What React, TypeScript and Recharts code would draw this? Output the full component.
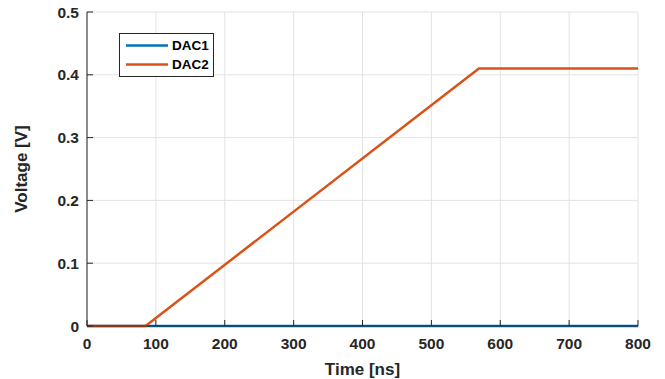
import React from "react";
import { LineChart, Line, XAxis, YAxis, CartesianGrid, Legend, Label } from "recharts";

const timeTicks = [0, 100, 200, 300, 400, 500, 600, 700, 800];
const voltTicks = [0, 0.1, 0.2, 0.3, 0.4, 0.5];

const dac1Time = [0, 800];
const dac1Volt = [0, 0];
const dac2Time = [0, 85, 569, 800];
const dac2Volt = [0, 0, 0.41, 0.41];

const dac1 = dac1Time.map((t, i) => ({ t, v: dac1Volt[i] }));
const dac2 = dac2Time.map((t, i) => ({ t, v: dac2Volt[i] }));

const FONT = "'Liberation Sans', Arial, Helvetica, sans-serif";
const AXIS = "#262626";
const BLUE = "#0072BD";
const ORANGE = "#D95319";

const fmtV = (v: number) => (v === 0 ? "0" : v.toFixed(1));

const BottomTick = (p: any) => (
  <g>
    <line x1={p.x} y1={p.y} x2={p.x} y2={p.y - 6} stroke={AXIS} strokeWidth={1} />
    <text x={p.x} y={p.y + 23} textAnchor="middle" fontFamily={FONT} fontWeight="bold" fontSize={15.5} fill={AXIS}>
      {p.payload.value}
    </text>
  </g>
);
const TopTick = (p: any) => (
  <line x1={p.x} y1={p.y} x2={p.x} y2={p.y + 6} stroke={AXIS} strokeWidth={1} />
);
const LeftTick = (p: any) => (
  <g>
    <line x1={p.x} y1={p.y} x2={p.x + 6} y2={p.y} stroke={AXIS} strokeWidth={1} />
    <text x={p.x - 8} y={p.y + 5.5} textAnchor="end" fontFamily={FONT} fontWeight="bold" fontSize={15.5} fill={AXIS}>
      {fmtV(p.payload.value)}
    </text>
  </g>
);
const RightTick = (p: any) => (
  <line x1={p.x} y1={p.y} x2={p.x - 6} y2={p.y} stroke={AXIS} strokeWidth={1} />
);

const LegendBox = () => {
  const items = [
    { name: "DAC1", color: BLUE },
    { name: "DAC2", color: ORANGE },
  ];
  return (
    <div
      style={{
        position: "relative",
        width: 95,
        height: 44,
        boxSizing: "border-box",
        border: `1px solid ${AXIS}`,
        background: "#fff",
        fontFamily: FONT,
      }}
    >
      {items.map((it, i) => (
        <div
          key={it.name}
          style={{ position: "absolute", left: 0, top: 2 + i * 19, height: 19, display: "flex", alignItems: "center" }}
        >
          <svg width={50} height={19} style={{ display: "block" }}>
            <line x1={6} y1={9.5} x2={48} y2={9.5} stroke={it.color} strokeWidth={2.5} />
          </svg>
          <span style={{ fontWeight: "bold", fontSize: 13.5, color: "#000", marginLeft: 2, lineHeight: "19px" }}>
            {it.name}
          </span>
        </div>
      ))}
    </div>
  );
};

export default function App() {
  return (
    <div style={{ width: 650, height: 379, marginTop: -8, fontFamily: FONT, background: "#fff" }}>
      <LineChart width={650} height={379} margin={{ top: 12, right: 20, bottom: 0, left: 0 }}>
        <CartesianGrid stroke="#e3e3e3" strokeWidth={1} horizontalValues={voltTicks} verticalValues={timeTicks} />
        <XAxis
          dataKey="t"
          type="number"
          domain={[0, 800]}
          ticks={timeTicks}
          interval={0}
          height={53}
          tickSize={0}
          tickMargin={0}
          tickLine={false}
          stroke={AXIS}
          tick={<BottomTick />}
          allowDuplicatedCategory={false}
        >
          <Label
            value="Time [ns]"
            position="insideBottom"
            offset={4}
            style={{ fontFamily: FONT, fontWeight: "bold", fontSize: 17, fill: AXIS }}
          />
        </XAxis>
        <XAxis
          xAxisId="top"
          orientation="top"
          dataKey="t"
          type="number"
          domain={[0, 800]}
          ticks={timeTicks}
          interval={0}
          height={0}
          tickSize={0}
          tickMargin={0}
          tickLine={false}
          stroke={AXIS}
          tick={<TopTick />}
        />
        <YAxis
          type="number"
          domain={[0, 0.5]}
          ticks={voltTicks}
          interval={0}
          width={79}
          tickSize={0}
          tickMargin={0}
          tickLine={false}
          stroke={AXIS}
          tick={<LeftTick />}
        >
          <Label
            value="Voltage [V]"
            angle={-90}
            position="insideLeft"
            offset={13}
            style={{ fontFamily: FONT, fontWeight: "bold", fontSize: 17, fill: AXIS, textAnchor: "middle" }}
          />
        </YAxis>
        <YAxis
          yAxisId="right"
          orientation="right"
          type="number"
          domain={[0, 0.5]}
          ticks={voltTicks}
          interval={0}
          width={0}
          tickSize={0}
          tickMargin={0}
          tickLine={false}
          stroke={AXIS}
          tick={<RightTick />}
        />
        <Legend
          layout="vertical"
          align="center"
          verticalAlign="middle"
          content={<LegendBox />}
          wrapperStyle={{ position: "absolute", left: 111, top: 33, width: 95, height: 44 }}
        />
        <Line
          data={dac1}
          dataKey="v"
          name="DAC1"
          type="linear"
          stroke={BLUE}
          strokeWidth={2.5}
          dot={false}
          activeDot={false}
          isAnimationActive={false}
        />
        <Line
          data={dac2}
          dataKey="v"
          name="DAC2"
          type="linear"
          stroke={ORANGE}
          strokeWidth={2.5}
          dot={false}
          activeDot={false}
          isAnimationActive={false}
        />
      </LineChart>
    </div>
  );
}
